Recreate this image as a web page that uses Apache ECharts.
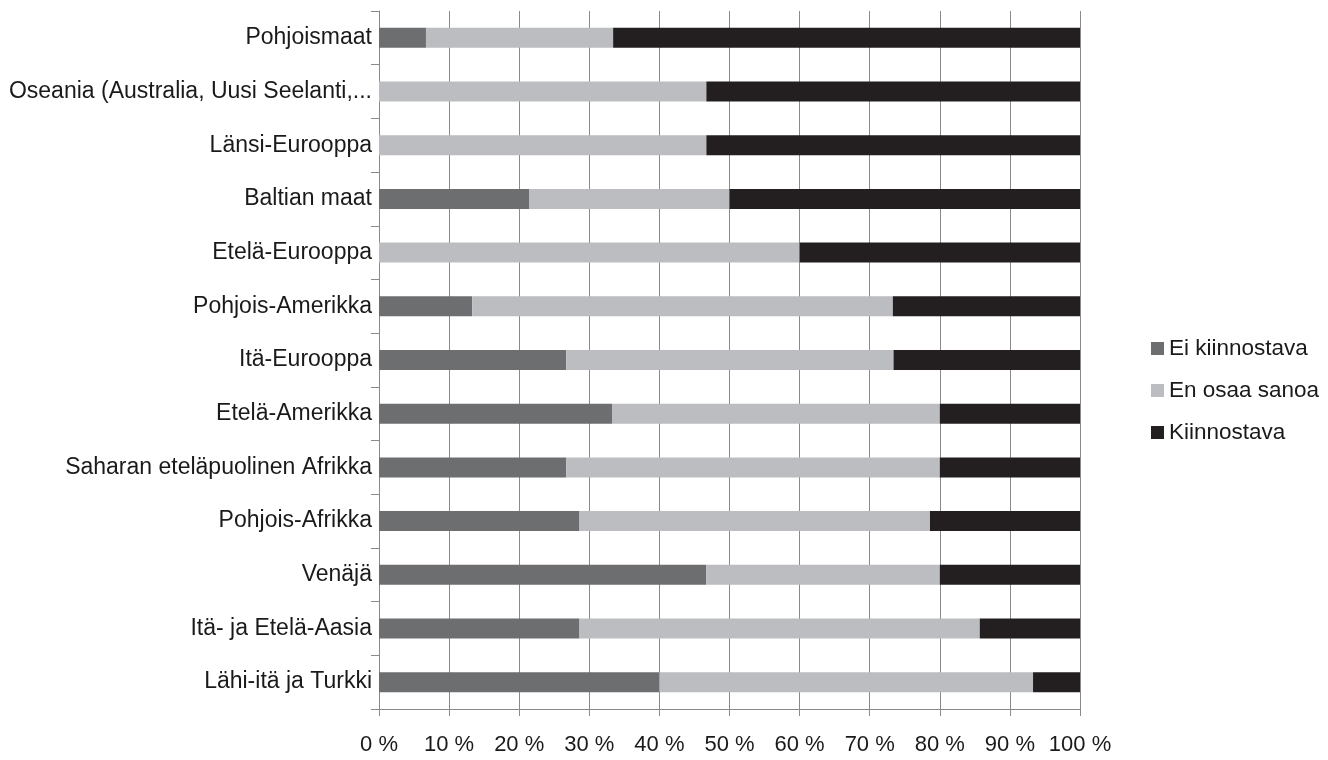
<!DOCTYPE html>
<html>
<head>
<meta charset="utf-8">
<script src="https://cdn.jsdelivr.net/npm/echarts@6/dist/echarts.min.js"></script>
<style>
html,body{margin:0;padding:0;background:#fff;}
#chart{width:1328px;height:760px;}
</style>
</head>
<body>
<div id="chart"></div>
<script>
const categories = [
  'Pohjoismaat',
  'Oseania (Australia, Uusi Seelanti,...',
  'Länsi-Eurooppa',
  'Baltian maat',
  'Etelä-Eurooppa',
  'Pohjois-Amerikka',
  'Itä-Eurooppa',
  'Etelä-Amerikka',
  'Saharan eteläpuolinen Afrikka',
  'Pohjois-Afrikka',
  'Venäjä',
  'Itä- ja Etelä-Aasia',
  'Lähi-itä ja Turkki'
];
const eiKiinnostava = [6.7, 0, 0, 21.4, 0, 13.3, 26.7, 33.3, 26.7, 28.6, 46.7, 28.6, 40.0];
const enOsaaSanoa   = [26.7, 46.7, 46.7, 28.6, 60.0, 60.0, 46.7, 46.7, 53.3, 50.0, 33.3, 57.1, 53.3];
const kiinnostava   = [66.6, 53.3, 53.3, 50.0, 40.0, 26.7, 26.6, 20.0, 20.0, 21.4, 20.0, 14.3, 6.7];
const seriesNames = ['Ei kiinnostava', 'En osaa sanoa', 'Kiinnostava'];
const xTicks = { min: 0, max: 100, interval: 10 };

const FONT = 'Liberation Sans';
const axisColor = '#8a8a8a';
const textColor = '#1a1a1a';
const colors = ['#6d6e70', '#bcbdc0', '#231f20'];
const dataSets = [eiKiinnostava, enOsaaSanoa, kiinnostava];

const chart = echarts.init(document.getElementById('chart'), null, {renderer: 'canvas'});
chart.setOption({
  animation: false,
  textStyle: { fontFamily: FONT },
  grid: { left: 379, right: 248, top: 11, bottom: 51, containLabel: false },
  legend: {
    orient: 'vertical',
    left: 1146,
    top: 332,
    itemWidth: 13,
    itemHeight: 13,
    itemGap: 19,
    icon: 'rect',
    data: seriesNames,
    textStyle: { fontFamily: FONT, fontSize: 22.5, color: textColor }
  },
  xAxis: {
    type: 'value',
    min: xTicks.min, max: xTicks.max, interval: xTicks.interval,
    axisLine: { show: true, lineStyle: { color: axisColor, width: 1 } },
    axisTick: { show: true, length: 7, lineStyle: { color: axisColor } },
    splitLine: { show: true, lineStyle: { color: axisColor, width: 1 } },
    axisLabel: { formatter: '{value} %', fontFamily: FONT, fontSize: 22, color: textColor, margin: 25 }
  },
  yAxis: {
    type: 'category',
    inverse: true,
    data: categories,
    axisLine: { show: true, lineStyle: { color: axisColor, width: 1 } },
    axisTick: { show: true, length: 8, lineStyle: { color: axisColor } },
    axisLabel: { fontFamily: FONT, fontSize: 23, color: textColor, margin: 7 }
  },
  series: seriesNames.map((name, i) => ({
    name: name,
    type: 'bar',
    stack: 'total',
    barWidth: 20,
    itemStyle: { color: colors[i] },
    data: dataSets[i]
  }))
});
</script>
</body>
</html>
